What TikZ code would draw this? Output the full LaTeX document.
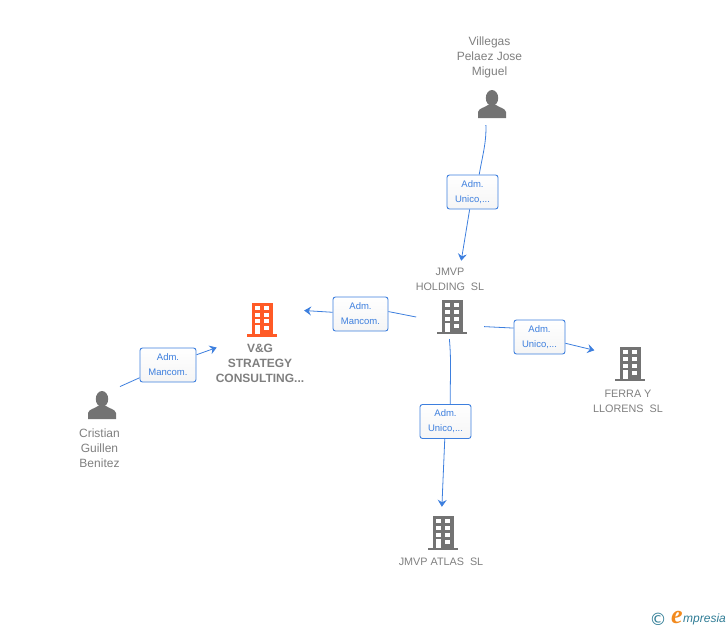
\documentclass[tikz,border=0pt]{standalone}
\usepackage{fontspec}
\usetikzlibrary{arrows.meta}
\setmainfont{Liberation Sans}
\newfontfamily\logofont{Liberation Serif}
\newfontfamily\symbfont{DejaVu Sans}
\definecolor{wireblue}{HTML}{3D7FDE}
\definecolor{textgrey}{HTML}{7F7F7F}
\definecolor{icongrey}{HTML}{737373}
\definecolor{iconorange}{HTML}{FF5A26}
\definecolor{logoteal}{HTML}{2F7C95}
\definecolor{logoorange}{HTML}{F28A1E}
\tikzset{
    pics/bldg/.style={code={
        \fill[#1] (-10.5,-15) rectangle (10.5,17);
        \fill[#1] (-15,-17) rectangle (15,-14.5);
        \foreach \py in {11.7,5,-1.7} {
            \fill[white] (-7.2,\py-2) rectangle (-2.2,\py+2);
            \fill[white] (2.2,\py-2) rectangle (7.2,\py+2);
        }
        \fill[white] (-7.2,-14.5) rectangle (-2.2,-5.5);
        \fill[white] (2.2,-10.5) rectangle (7.2,-6.5);
    }},
    pics/pers/.style={code={
        \fill[icongrey] (0,6) ellipse (6.2 and 8);
        \fill[icongrey] (-14,-14) -- (-14,-8) .. controls (-13,-4) and (-8,-4) .. (-4,-1)
            -- (4,-1) .. controls (8,-4) and (13,-4) .. (14,-8) -- (14,-14) -- cycle;
    }}
}
\begin{document}
\begin{tikzpicture}[
        x=1pt, y=1pt,
        every node/.style={inner sep=0pt, align=center},
        lbl/.style={font=\fontsize{12}{15}\selectfont, text=textgrey},
        lblco/.style={font=\fontsize{10.8}{15}\selectfont, text=textgrey},
        lblbold/.style={lbl, font=\fontsize{12}{15}\selectfont\bfseries},
        badge/.style={draw=wireblue, rounded corners=2.5pt, line width=0.9pt, top color=white,
            bottom color=black!4, text=wireblue, minimum width=51pt, minimum height=34pt,
            font=\fontsize{9.5}{15}\selectfont},
        iconbox/.style={minimum width=30pt, minimum height=34pt},
        wire/.style={draw=wireblue, line width=0.8pt},
        wirearrow/.style={wire, -{Stealth[length=7pt, width=9pt, inset=2.5pt]}}
    ]
    \useasboundingbox (0,0) rectangle (728,-630);

    % people and companies
    \node[iconbox] (villegas) at (492,-104) {};
    \pic at (villegas) {pers};
    \node[lbl] (villegaslbl) at (489.5,-57.7) {Villegas\\Pelaez Jose\\Miguel};

    \node[iconbox] (holding) at (452,-317) {};
    \pic at (holding) {bldg=icongrey};
    \node[lblco] (holdinglbl) at (450,-279) {JMVP\\HOLDING\ \ SL};

    \node[iconbox] (strategy) at (262,-319.5) {};
    \pic at (strategy) {bldg=iconorange};
    \node[lblbold] (strategylbl) at (260,-363) {V\&G\\STRATEGY\\CONSULTING...};

    \node[iconbox] (cristian) at (102,-405) {};
    \pic at (cristian) {pers};
    \node[lbl] (cristianlbl) at (99.5,-448) {Cristian\\Guillen\\Benitez};

    \node[iconbox] (ferra) at (630,-364) {};
    \pic at (ferra) {bldg=icongrey};
    \node[lblco] (ferralbl) at (628,-401) {FERRA Y\\LLORENS\ \ SL};

    \node[iconbox] (atlas) at (443,-533) {};
    \pic at (atlas) {bldg=icongrey};
    \node[lblco] (atlaslbl) at (441,-562) {JMVP ATLAS\ \ SL};

    % role badges
    \node[badge] (roletop) at (472.5,-192) {Adm.\\Unico,...};
    \node[badge, minimum width=55pt] (roleleft) at (360.5,-314) {Adm.\\Mancom.};
    \node[badge, minimum width=56pt] (rolefar) at (168,-365) {Adm.\\Mancom.};
    \node[badge] (roleright) at (539.5,-337) {Adm.\\Unico,...};
    \node[badge] (rolebottom) at (445.5,-421.5) {Adm.\\Unico,...};

    % connectors
    \draw[wire, shorten <=4pt] (villegas.-110) to[out=-88, in=80] (roletop.69);
    \draw[wirearrow, shorten >=57pt] (roletop) -- (holding.center);
    \draw[wire, shorten <=21pt] (holding.195) -- (roleleft.5);
    \draw[wirearrow, shorten >=27pt] (roleleft) -- (strategy.35);
    \draw[wire, shorten <=3pt] (cristian.north east) -- (rolefar);
    \draw[wirearrow, shorten >=32pt] (rolefar) -- (strategy.south west);
    \draw[wire, shorten <=17pt] (holding.-30) -- (roleright.161);
    \draw[wirearrow, shorten >=21pt] (roleright) -- (ferra.150);
    \draw[wire, shorten <=5pt] (holding.-100) to[out=-85, in=90] (rolebottom.75.6);
    \draw[wirearrow, shorten >=9pt] (rolebottom) -- (atlas.95);

    % logo
    \node[text=logoteal, font=\symbfont\fontsize{17}{17}\selectfont] (copyr) at (658,-619) {©};
    \node[text=logoorange, font=\logofont\itshape\bfseries\fontsize{26}{26}\selectfont] (logoe) at (677,-617.5) {e};
    \node[text=logoteal, font=\itshape\fontsize{12}{12}\selectfont, anchor=west] (logotxt) at (683,-619) {mpresia};
\end{tikzpicture}
\end{document}
